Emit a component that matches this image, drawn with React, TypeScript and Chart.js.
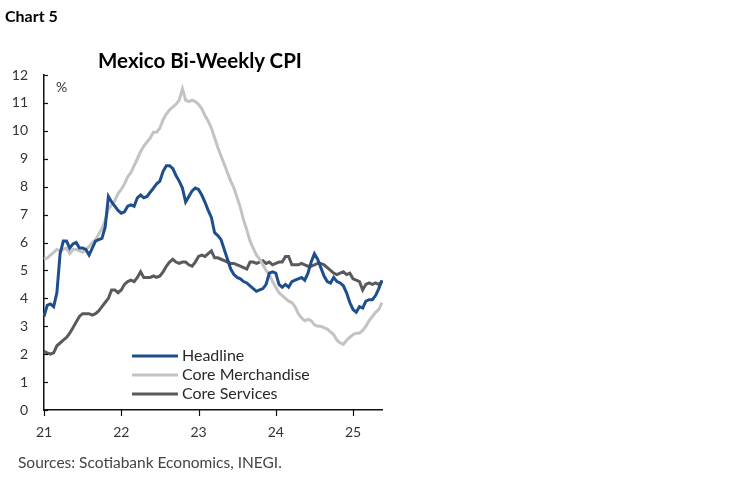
import React, { useEffect, useRef } from "react";
import { Chart, registerables } from "chart.js";

Chart.register(...registerables);

// ---- data ----
const startYear = 2021;
const yearTickLabels = ["21", "22", "23", "24", "25"];
const periodsPerYear = 24;
const monthNames = ["Jan", "Feb", "Mar", "Apr", "May", "Jun", "Jul", "Aug", "Sep", "Oct", "Nov", "Dec"];
const periodCount = 106; // 1H Jan 2021 .. 2H May 2025
const periods: string[] = [];
for (let i = 0; i < periodCount; i++) {
  const y = startYear + Math.floor(i / periodsPerYear);
  const m = Math.floor((i % periodsPerYear) / 2);
  const h = i % 2 === 0 ? "1H" : "2H";
  periods.push(`${h} ${monthNames[m]} ${y}`);
}

const headline = [
  3.35, 3.75, 3.8, 3.7, 4.2, 5.6, 6.05, 6.05, 5.8, 5.95,
  6.0, 5.8, 5.8, 5.75, 5.55, 5.8, 6.05, 6.1, 6.15, 6.55,
  7.65, 7.45, 7.3, 7.15, 7.05, 7.1, 7.3, 7.35, 7.3, 7.6,
  7.7, 7.6, 7.65, 7.8, 7.95, 8.1, 8.2, 8.55, 8.75, 8.75,
  8.65, 8.4, 8.2, 7.95, 7.45, 7.65, 7.85, 7.95, 7.9, 7.7,
  7.45, 7.15, 6.9, 6.35, 6.25, 6.1, 5.75, 5.4, 5.05, 4.85,
  4.75, 4.7, 4.6, 4.55, 4.45, 4.35, 4.25, 4.3, 4.35, 4.5,
  4.9, 4.95, 4.9, 4.5, 4.4, 4.5, 4.4, 4.6, 4.65, 4.7,
  4.75, 4.65, 4.9, 5.3, 5.6, 5.4, 5.1, 4.8, 4.6, 4.55,
  4.75, 4.6, 4.55, 4.45, 4.2, 3.85, 3.6, 3.5, 3.7, 3.65,
  3.9, 3.95, 3.95, 4.1, 4.35, 4.65,
];

const coreMerchandise = [
  5.4, 5.45, 5.55, 5.65, 5.75, 5.7, 5.75, 5.8, 5.6, 5.75,
  5.75, 5.7, 5.65, 5.75, 5.85, 6.0, 6.1, 6.3, 6.5, 6.8,
  7.2, 7.35, 7.5, 7.75, 7.9, 8.1, 8.35, 8.5, 8.75, 9.0,
  9.25, 9.45, 9.6, 9.75, 9.95, 9.95, 10.1, 10.4, 10.6, 10.75,
  10.85, 10.95, 11.1, 11.5, 11.1, 11.05, 11.1, 11.05, 10.95, 10.8,
  10.55, 10.35, 10.1, 9.75, 9.4, 9.1, 8.8, 8.5, 8.2, 7.95,
  7.6, 7.25, 6.8, 6.45, 6.05, 5.8, 5.55, 5.4, 5.2, 5.0,
  4.85, 4.6, 4.4, 4.2, 4.1, 4.0, 3.9, 3.85, 3.7, 3.45,
  3.3, 3.2, 3.25, 3.2, 3.05, 3.0, 3.0, 2.95, 2.9, 2.8,
  2.7, 2.5, 2.4, 2.35, 2.5, 2.6, 2.7, 2.75, 2.75, 2.85,
  3.0, 3.2, 3.35, 3.5, 3.6, 3.85,
];

const coreServices = [
  2.1, 2.05, 2.0, 2.05, 2.3, 2.4, 2.5, 2.6, 2.75, 2.95,
  3.15, 3.35, 3.45, 3.45, 3.45, 3.4, 3.45, 3.55, 3.7, 3.85,
  4.0, 4.3, 4.3, 4.2, 4.3, 4.5, 4.6, 4.65, 4.6, 4.75,
  4.95, 4.75, 4.75, 4.75, 4.8, 4.75, 4.8, 4.95, 5.15, 5.3,
  5.4, 5.3, 5.25, 5.3, 5.3, 5.2, 5.15, 5.3, 5.5, 5.55,
  5.5, 5.6, 5.7, 5.45, 5.45, 5.4, 5.35, 5.3, 5.25, 5.25,
  5.2, 5.15, 5.1, 5.05, 5.3, 5.3, 5.25, 5.3, 5.35, 5.25,
  5.3, 5.2, 5.25, 5.3, 5.3, 5.5, 5.5, 5.2, 5.2, 5.2,
  5.25, 5.2, 5.15, 5.15, 5.2, 5.25, 5.25, 5.2, 5.1, 5.0,
  4.9, 4.85, 4.9, 4.95, 4.85, 4.9, 4.7, 4.65, 4.6, 4.3,
  4.5, 4.55, 4.5, 4.55, 4.5, 4.6,
];

const seriesNames = ["Headline", "Core Merchandise", "Core Services"];
const seriesColors = ["#1f4e8c", "#c3c3c3", "#5a5a5a"];

const FONT = "Lato, 'Noto Sans', sans-serif";

const decorPlugin = {
  id: "decor",
  afterDraw(chart: any) {
    const { ctx, chartArea, scales } = chart;
    const xs = scales.x;
    const ys = scales.y;
    ctx.save();
    ctx.strokeStyle = "#111";
    ctx.lineWidth = 1.2;
    // y ticks (inward)
    ys.ticks.forEach((t: any) => {
      const y = Math.round(ys.getPixelForValue(t.value)) + 0.5;
      ctx.beginPath();
      ctx.moveTo(chartArea.left, y);
      ctx.lineTo(chartArea.left + 4, y);
      ctx.stroke();
    });
    // x ticks (outward) at year starts
    yearTickLabels.forEach((_, k) => {
      const x = Math.round(xs.getPixelForValue(k * periodsPerYear)) + 0.5;
      ctx.beginPath();
      ctx.moveTo(x, chartArea.bottom);
      ctx.lineTo(x, chartArea.bottom + 6);
      ctx.stroke();
    });
    // unit label
    ctx.fillStyle = "#333";
    ctx.font = `14px ${FONT}`;
    ctx.textBaseline = "middle";
    ctx.textAlign = "left";
    ctx.fillText("%", chartArea.left + 12, chartArea.top + 12);
    // legend inside plot
    const lx = chartArea.left + 88;
    const ly = chartArea.top + 281;
    chart.data.datasets.forEach((ds: any, i: number) => {
      const y = ly + i * 19;
      ctx.strokeStyle = ds.borderColor;
      ctx.lineWidth = 3;
      ctx.beginPath();
      ctx.moveTo(lx, y);
      ctx.lineTo(lx + 46, y);
      ctx.stroke();
      ctx.fillStyle = "#2a2a2a";
      ctx.font = `16px ${FONT}`;
      ctx.fillText(ds.label, lx + 50, y);
    });
    ctx.restore();
  },
};

export default function App() {
  const canvasRef = useRef<HTMLCanvasElement | null>(null);

  useEffect(() => {
    if (!canvasRef.current) return;
    const chart = new Chart(canvasRef.current, {
      type: "line",
      data: {
        labels: periods,
        datasets: [headline, coreMerchandise, coreServices].map((d, i) => ({
          label: seriesNames[i],
          data: d,
          borderColor: seriesColors[i],
          backgroundColor: seriesColors[i],
          borderWidth: 3,
          pointRadius: 0,
          tension: 0,
          fill: false,
        })),
      },
      options: {
        responsive: false,
        animation: false,
        layout: { padding: { top: 75, right: 366, bottom: 0, left: 0 } },
        plugins: {
          legend: { display: false },
          title: { display: false },
          tooltip: { enabled: false },
        },
        scales: {
          x: {
            type: "category",
            offset: false,
            grid: { display: false, drawTicks: false },
            border: { display: true, color: "#111", width: 1.5 },
            ticks: {
              autoSkip: false,
              maxRotation: 0,
              padding: 14,
              color: "#333",
              font: { family: FONT, size: 14 },
              callback: (_v: any, idx: number) =>
                idx % periodsPerYear === 0 ? yearTickLabels[idx / periodsPerYear] : null,
            },
            afterFit: (scale: any) => {
              scale.height = 73;
            },
          },
          y: {
            min: 0,
            max: 12,
            grid: { display: false, drawTicks: false },
            border: { display: true, color: "#111", width: 1.5 },
            ticks: {
              stepSize: 1,
              padding: 16,
              color: "#333",
              font: { family: FONT, size: 14 },
            },
            afterFit: (scale: any) => {
              scale.width = 44;
            },
          },
        },
      },
      plugins: [decorPlugin],
    });
    return () => chart.destroy();
  }, []);

  return (
    <div
      style={{
        position: "absolute",
        left: 0,
        top: 0,
        width: 748,
        height: 483,
        background: "#fff",
        fontFamily: FONT,
        overflow: "hidden",
      }}
    >
      <canvas
        ref={canvasRef}
        width={748}
        height={483}
        style={{ position: "absolute", left: 0, top: 0, width: 748, height: 483 }}
      />
      <div
        style={{
          position: "absolute",
          left: 5,
          top: 7,
          fontSize: 16,
          lineHeight: "18px",
          fontWeight: 700,
          color: "#000",
        }}
      >
        Chart 5
      </div>
      <div
        style={{
          position: "absolute",
          left: 0,
          width: 400,
          top: 48,
          textAlign: "center",
          fontSize: 20.5,
          lineHeight: "24px",
          fontWeight: 700,
          color: "#000",
        }}
      >
        Mexico Bi-Weekly CPI
      </div>
      <div
        style={{
          position: "absolute",
          left: 18,
          top: 453,
          fontSize: 15.5,
          lineHeight: "18px",
          color: "#444",
        }}
      >
        Sources: Scotiabank Economics, INEGI.
      </div>
    </div>
  );
}
